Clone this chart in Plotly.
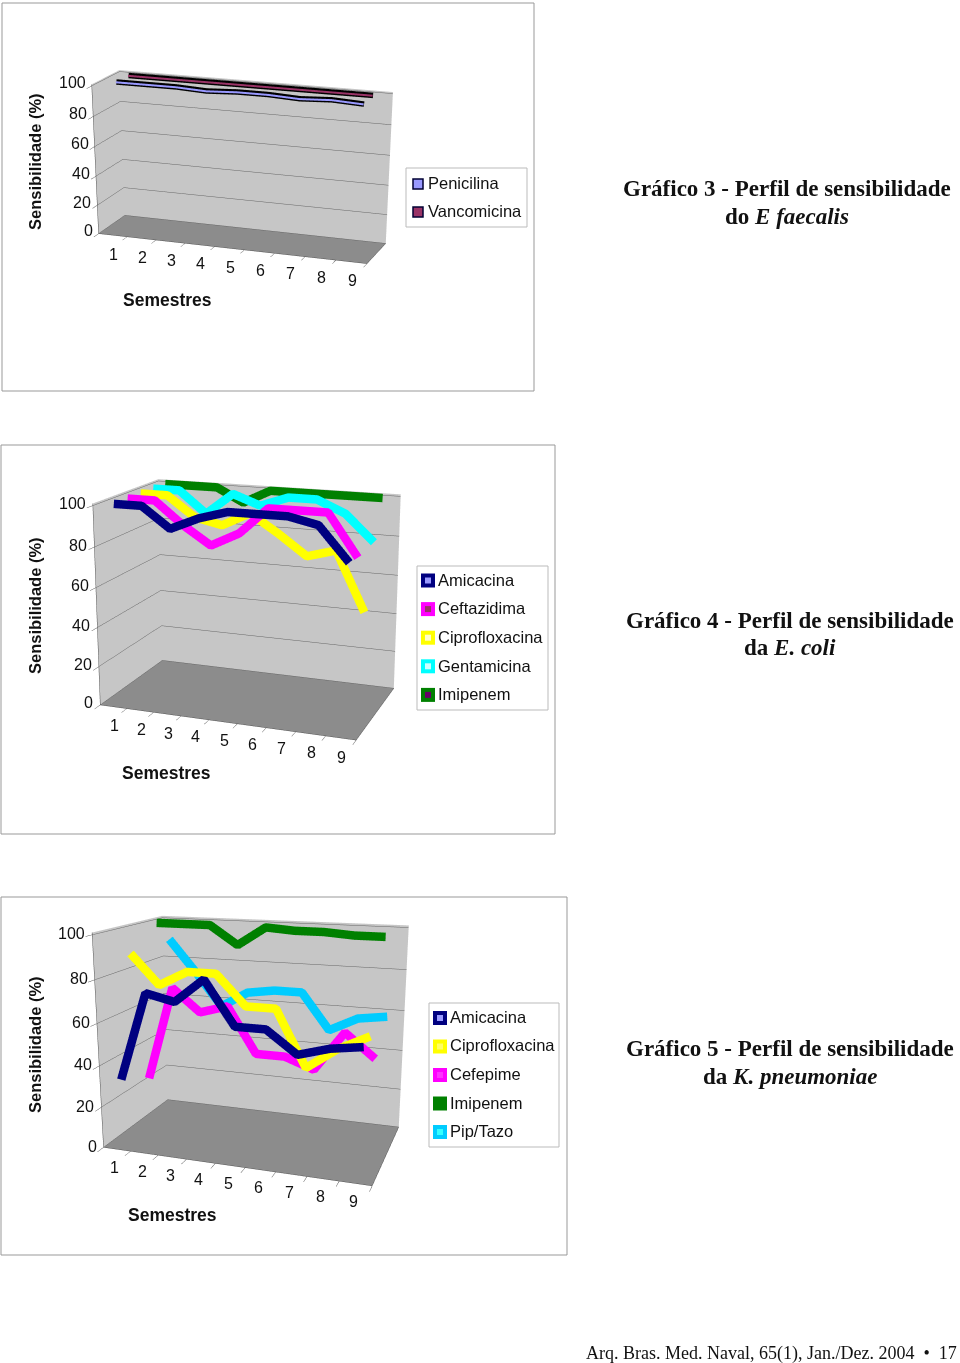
import math
import plotly.graph_objects as go

W, H = 960, 1363
SEMESTRES = [1, 2, 3, 4, 5, 6, 7, 8, 9]
X_BOUNDS = [0.5, 1.5, 2.5, 3.5, 4.5, 5.5, 6.5, 7.5, 8.5, 9.5]
Z_TICKS = [0, 20, 40, 60, 80, 100]

PENICILINA = [100, 100, 100, 99, 100, 100, 99, 100, 99]
VANCOMICINA = [100, 100, 100, 100, 100, 100, 100, 100, 100]

AMI4 = [100, 100, 90, 96, 100, 100, 100, 97, 81]
CEF4 = [100, 100, 89, 80, 87, 100, 100, 100, 80]
CIP4 = [100, 100, 90, 87, 94, 85, 75, 79, 50]
GEN4 = [100, 100, 89, 100, 95, 100, 100, 94, 81]
IMI4 = [100, 100, 100, 93, 100, 100, 100, 100, 100]

AMI5 = [32, 74, 71, 82, 62, 62, 52, 56, 58]
CIP5 = [89, 75, 82, 82, 68, 68, 42, 52, 59]
CFP5 = [24, 71, 60, 64, 42, 42, 37, 56, 45]
IMI5 = [100, 100, 100, 91, 100, 99, 99, 98, 98]
PIP5 = [90, 74, 57, 65, 67, 67, 49, 56, 58]

NAVY, MAG, YEL, CYA, GRN, SKY = "#000080", "#FF00FF", "#FFFF00", "#00FFFF", "#008000", "#00CCFF"
SANS = "Liberation Sans"
SERIF = "Liberation Serif"
TXT = "#111111"


def px(x): return x / W
def py(y): return 1 - y / H


def tick_notes(xs, ys, zxs, zys):
    font = dict(family=SANS, size=16, color=TXT)
    out = [dict(x=s, y=0, z=0, text=str(s), showarrow=False, xanchor="center", yanchor="middle",
                xshift=xs, yshift=ys, font=font) for s in SEMESTRES]
    out += [dict(x=0.5, y=0, z=v, text=str(v), showarrow=False, xanchor="right", yanchor="middle",
                 xshift=zxs, yshift=zys, font=font) for v in Z_TICKS]
    return out


def make_scene(cx, cy, vh, vw, ax, ay, az, a, b, sphi, d, shifts, cz=0.0):
    cphi = math.sqrt(1 - sphi * sphi)
    axis = dict(showspikes=False, title=dict(text=""), zeroline=False, showticklabels=False)
    wall = "#C6C6C6"
    return dict(
        domain=dict(x=[max(0, px(cx - vw / 2)), min(1, px(cx + vw / 2))],
                    y=[max(0, py(cy + vh / 2)), min(1, py(cy - vh / 2))]),
        bgcolor="rgba(0,0,0,0)",
        aspectmode="manual",
        aspectratio=dict(x=ax, y=ay, z=az),
        camera=dict(
            eye=dict(x=d * cphi * a, y=-d * cphi * b, z=d * sphi),
            up=dict(x=0, y=0, z=1),
            center=dict(x=0, y=0, z=cz),
            projection=dict(type="perspective"),
        ),
        xaxis=dict(axis, range=[0.5, 9.5], tickvals=X_BOUNDS,
                   showgrid=False, showbackground=True, backgroundcolor=wall,
                   showline=True, linecolor="#555555", ticks="outside", ticklen=4, tickcolor="#555555"),
        yaxis=dict(axis, range=[0, 1], ticks="", showgrid=False,
                   showbackground=True, backgroundcolor=wall, showline=True, linecolor="#555555"),
        zaxis=dict(axis, range=[0, 101], tickvals=Z_TICKS, showgrid=True, gridcolor="#666666", gridwidth=1,
                   showbackground=True, backgroundcolor="#8C8C8C", showline=True, linecolor="#555555",
                   ticks="outside", ticklen=4, tickcolor="#555555"),
        annotations=tick_notes(*shifts),
    )


fig = go.Figure()
CLEAR = "rgba(0,0,0,0)"
shapes = []


def add_series(scene, name, values, color, depth, width, legend):
    fig.add_trace(go.Scatter3d(x=SEMESTRES, y=[depth] * 9, z=values, mode="lines", name=name,
                               line=dict(color=color, width=width), scene=scene, showlegend=False,
                               hoverinfo="skip"))
    fig.add_trace(go.Scatter(x=[None], y=[None], mode="markers", name=name, legend=legend, legendgroup=name,
                             marker=dict(symbol="square", size=9, color=CLEAR, line=dict(color=CLEAR, width=0)),
                             xaxis="x", yaxis="y", showlegend=True))


def inner_line(scene, name, values, color, depth, width):
    fig.add_trace(go.Scatter3d(x=SEMESTRES, y=[depth] * 9, z=values, mode="lines", name=name,
                               line=dict(color=color, width=width), scene=scene, showlegend=False,
                               hoverinfo="skip"))


def swatch(cx, cy, size, inner_size, color, inner, border=None):
    shapes.append(dict(type="rect", xref="paper", yref="paper", x0=px(cx - size / 2), x1=px(cx + size / 2),
                       y0=py(cy + size / 2), y1=py(cy - size / 2), fillcolor=color,
                       line=dict(color=border or color, width=1.5 if border else 0)))
    if inner_size:
        shapes.append(dict(type="rect", xref="paper", yref="paper", x0=px(cx - inner_size / 2),
                           x1=px(cx + inner_size / 2), y0=py(cy + inner_size / 2), y1=py(cy - inner_size / 2),
                           fillcolor=inner, line=dict(width=0)))


# chart 1
add_series("scene", "Penicilina", PENICILINA, "#000000", 0.35, 11, "legend")
add_series("scene", "Vancomicina", VANCOMICINA, "#000000", 0.8, 11, "legend")
inner_line("scene", "Penicilina", PENICILINA, "#9999FF", 0.33, 4)
inner_line("scene", "Vancomicina", VANCOMICINA, "#993366", 0.78, 4)
swatch(418, 184, 10, 0, "#9999FF", None, "#000033")
swatch(418, 212, 10, 0, "#993366", None, "#000033")
# chart 2
for i, (name, vals, col, dep, inner) in enumerate([
    ("Amicacina", AMI4, NAVY, 0.1, "#9999FF"), ("Ceftazidima", CEF4, MAG, 0.3, "#993366"),
    ("Ciprofloxacina", CIP4, YEL, 0.5, "#FFFFCC"), ("Gentamicina", GEN4, CYA, 0.7, "#CCFFFF"),
    ("Imipenem", IMI4, GRN, 0.9, "#660066")]):
    add_series("scene2", name, vals, col, dep, 17, "legend2")
    swatch(428, 580.5 + i * 28.6, 14, 6, col, inner)
# chart 3
for i, (name, vals, col, dep, inner) in enumerate([
    ("Amicacina", AMI5, NAVY, 0.1, "#9999FF"), ("Ciprofloxacina", CIP5, YEL, 0.3, "#FFFF66"),
    ("Cefepime", CFP5, MAG, 0.5, "#FF33FF"), ("Imipenem", IMI5, GRN, 0.7, "#008000"),
    ("Pip/Tazo", PIP5, SKY, 0.9, "#33FFFF")]):
    add_series("scene3", name, vals, col, dep, 17, "legend3")
    swatch(440, 1018 + i * 28.5, 14, 6, col, inner)


def legend(x, y, gap):
    return dict(x=px(x), y=py(y), xanchor="left", yanchor="top", bgcolor=CLEAR, borderwidth=0,
                font=dict(family=SANS, size=16.5, color=TXT), tracegroupgap=gap,
                itemclick=False, itemdoubleclick=False)


frames = [(2, 3, 534, 391), (1, 445, 555, 834), (1, 897, 567, 1255)]
boxes = [(406, 168, 527, 227), (417, 566, 548, 710), (429, 1003, 559, 1147)]
back = [dict(type="rect", xref="paper", yref="paper", x0=px(a), x1=px(c), y0=py(b), y1=py(d),
             line=dict(color="#999999", width=1), fillcolor=CLEAR, layer="below") for a, b, c, d in frames]
back += [dict(type="rect", xref="paper", yref="paper", x0=px(a), x1=px(c), y0=py(b), y1=py(d),
              line=dict(color="#BBBBBB", width=1), fillcolor="#FFFFFF", layer="below") for a, b, c, d in boxes]


def note(x, y, text, size, family=SANS, angle=0, anchor="center", color=TXT):
    return dict(x=px(x), y=py(y), xref="paper", yref="paper", text=text, showarrow=False, textangle=angle,
                xanchor=anchor, yanchor="middle", font=dict(family=family, size=size, color=color))


annotations = [
    note(35, 162, "<b>Sensibilidade (%)</b>", 16.5, angle=-90),
    note(167, 300, "<b>Semestres</b>", 17.5),
    note(35, 606, "<b>Sensibilidade (%)</b>", 16.5, angle=-90),
    note(166, 773, "<b>Semestres</b>", 17.5),
    note(35, 1045, "<b>Sensibilidade (%)</b>", 16.5, angle=-90),
    note(172, 1215, "<b>Semestres</b>", 17.5),
    note(787, 188, "<b>Gráfico 3 - Perfil de sensibilidade</b>", 23, SERIF),
    note(787, 216, "<b>do <i>E faecalis</i></b>", 23, SERIF),
    note(790, 620, "<b>Gráfico 4 - Perfil de sensibilidade</b>", 23, SERIF),
    note(790, 647, "<b>da <i>E. coli</i></b>", 23, SERIF),
    note(790, 1048, "<b>Gráfico 5 - Perfil de sensibilidade</b>", 23, SERIF),
    note(790, 1076, "<b>da <i>K. pneumoniae</i></b>", 23, SERIF),
    note(771, 1353, "Arq. Bras. Med. Naval, 65(1), Jan./Dez. 2004  •  17", 18, SERIF),
]

fig.update_layout(
    width=W, height=H, margin=dict(l=0, r=0, t=0, b=0), autosize=False,
    paper_bgcolor="#FFFFFF", plot_bgcolor=CLEAR,
    xaxis=dict(visible=False, domain=[0, 0.01], range=[0, 1]),
    yaxis=dict(visible=False, domain=[0, 0.01], range=[0, 1]),
    scene=make_scene(241, 681.5, 1363, 440, 1.0, 0.238, 0.515, 0.339, 0.941, 0.255, 5.99, (1, -19, -4, 3), cz=-2.12),
    scene2=make_scene(250, 600, 950, 440, 1.0, 150 / 265, 205 / 265, 0.346, 0.938, 0.267, 950 / (0.828 * 265),
                      (1, -19, -5, 2)),
    scene3=make_scene(256, 1036.5, 653, 440, 1.0, 151 / 271, 215 / 271, 0.323, 0.946, 0.257, 653 / (0.828 * 271),
                      (-2, -18, -5, 1)),
    legend=legend(388, 165, 4.2),
    legend2=legend(398, 562, 4.2),
    legend3=legend(410, 999, 4.2),
    shapes=back + shapes, annotations=annotations,
)

fig.write_html("out.html", config=dict(displayModeBar=False),
               post_script="document.body.style.margin='0';document.documentElement.style.overflow='hidden';")
